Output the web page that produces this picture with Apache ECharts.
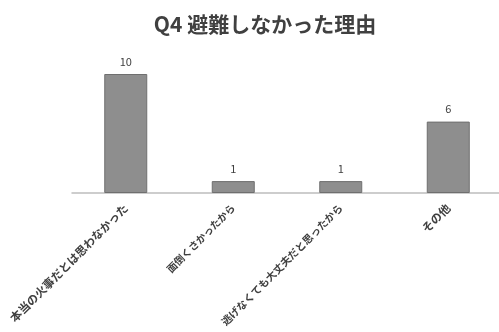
<!DOCTYPE html>
<html><head><meta charset="utf-8">
<script src="https://cdn.jsdelivr.net/npm/echarts@6/dist/echarts.min.js"></script>
<style>html,body{margin:0;padding:0;background:#fff}#c{width:499px;height:332px}</style>
</head><body><div id="c"></div>
<script>
const titleText = 'Q4 避難しなかった理由';
const categories = ['本当の火事だとは思わなかった', '面倒くさかったから', '逃げなくても大丈夫だと思ったから', 'その他'];
const values = [10, 1, 1, 6];

const labelSizes = [11.5, 10.2, 10.4, 11.5];
const chart = echarts.init(document.getElementById('c'));
const font = '"Noto Sans CJK JP", "Noto Sans", sans-serif';
chart.setOption({
  animation: false,
  backgroundColor: '#fff',
  title: {
    text: titleText, left: 260, top: 9, textAlign: 'center',
    textStyle: { fontFamily: font, fontSize: 21, fontWeight: 'bold', color: '#404040' }
  },
  grid: { left: 72, right: -3, top: 74, bottom: 139, containLabel: false, outerBoundsMode: 'none' },
  xAxis: {
    type: 'category',
    data: categories.map((c, i) => ({ value: c, textStyle: { fontSize: labelSizes[i] } })),
    axisLine: { lineStyle: { color: '#bdbdbd', width: 1.5 } },
    axisTick: { show: false },
    axisLabel: { rotate: 45, interval: 0, margin: 13, fontFamily: font, fontSize: 11.5, color: '#404040', fontWeight: 'bold' }
  },
  yAxis: { type: 'value', min: 0, max: 10, show: false, splitLine: { show: false } },
  series: [{
    type: 'bar', data: values, barWidth: 43,
    itemStyle: { color: '#8e8e8e', borderColor: '#6f6f6f', borderWidth: 1 },
    label: { show: true, position: 'top', distance: 7, fontFamily: font, fontSize: 11, color: '#404040' }
  }]
});
</script></body></html>
